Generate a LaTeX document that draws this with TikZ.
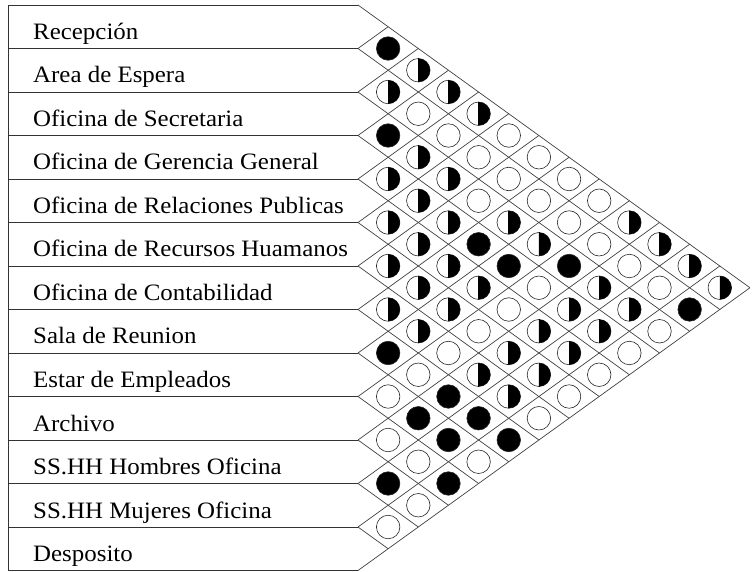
\documentclass[tikz,border=0pt]{standalone}
\usepackage{fontspec}
\setmainfont[FakeStretch=1.06]{Liberation Serif}
\begin{document}
\begin{tikzpicture}[x=1pt,y=-1pt,
  gridline/.style={draw=black!75, line width=0.7pt},
  rowline/.style={draw=black!80, line width=0.9pt},
  cellE/.style={circle, draw=black!85, line width=0.6pt, minimum size=23.5pt, inner sep=0pt, outer sep=0pt, fill=white},
  cellH/.style={cellE},
  cellF/.style={cellE, fill=black},
  lbl/.style={anchor=base west, inner sep=0pt, font=\fontsize{23.5}{28}\selectfont}]
\useasboundingbox (0,0) rectangle (753,572);
\def\gx{358}
\def\hw{30.15}
\def\hh{21.75}
% row separators and left edge
\foreach \k in {0,...,13} {
  \draw[rowline] (8,{5+43.5*\k}) -- (\gx,{5+43.5*\k});
}
\draw[rowline] (8,5) -- (8,570.5);
% diagonal grid
\foreach \k in {0,...,13} {
  \pgfmathsetmacro{\yk}{5+43.5*\k}
  \pgfmathsetmacro{\dn}{13-\k}
  \draw[gridline] (\gx,\yk) -- ({\gx+\hw*\dn},{\yk+\hh*\dn});
  \draw[gridline] (\gx,\yk) -- ({\gx+\hw*\k},{\yk-\hh*\k});
}
% labels
\foreach \lab [count=\k from 0] in {Recepción, Area de Espera, Oficina de Secretaria, Oficina de Gerencia General, Oficina de Relaciones Publicas, Oficina de Recursos Huamanos, Oficina de Contabilidad, Sala de Reunion, Estar de Empleados, Archivo, SS.HH Hombres Oficina, SS.HH Mujeres Oficina, Desposito} {
  \node[lbl] (r\k) at (33,{5+43.5*(\k+1)-9}) {\lab};
}
% relationship cells
\foreach \i/\j/\ty in {
 0/1/F, 0/2/H, 1/2/H, 0/3/H, 1/3/E, 0/4/H, 2/3/F, 1/4/E, 0/5/E,
 2/4/H, 1/5/E, 0/6/E, 3/4/H, 2/5/H, 1/6/E, 0/7/E,
 3/5/H, 2/6/E, 1/7/E, 0/8/E,
 4/5/H, 3/6/H, 2/7/H, 1/8/E, 0/9/H,
 4/6/H, 3/7/F, 2/8/H, 1/9/E, 0/10/H,
 5/6/H, 4/7/H, 3/8/F, 2/9/F, 1/10/E, 0/11/H,
 5/7/H, 4/8/H, 3/9/E, 2/10/H, 1/11/E, 0/12/H,
 6/7/H, 5/8/H, 4/9/E, 3/10/H, 2/11/H, 1/12/F,
 6/8/H, 5/9/E, 4/10/H, 3/11/H, 2/12/E,
 7/8/F, 6/9/E, 5/10/H, 4/11/H, 3/12/E,
 7/9/E, 6/10/H, 5/11/H, 4/12/E,
 8/9/E, 7/10/F, 6/11/H, 5/12/E,
 8/10/F, 7/11/F, 6/12/E,
 9/10/E, 8/11/F, 7/12/F,
 9/11/E, 8/12/E,
 10/11/F, 9/12/F,
 10/12/E,
 11/12/E} {
  \node[cell\ty] (c\i-\j) at ({\gx+\hw*(\j-\i)},{5+\hh*(\i+\j+1)}) {};
  \if\ty H
    \fill[black] (c\i-\j.north) arc[start angle=90, end angle=-90, radius=11.75pt] -- cycle;
    \draw[black, line width=0.6pt] (c\i-\j.north) -- (c\i-\j.south);
  \fi
}
\end{tikzpicture}
\end{document}
